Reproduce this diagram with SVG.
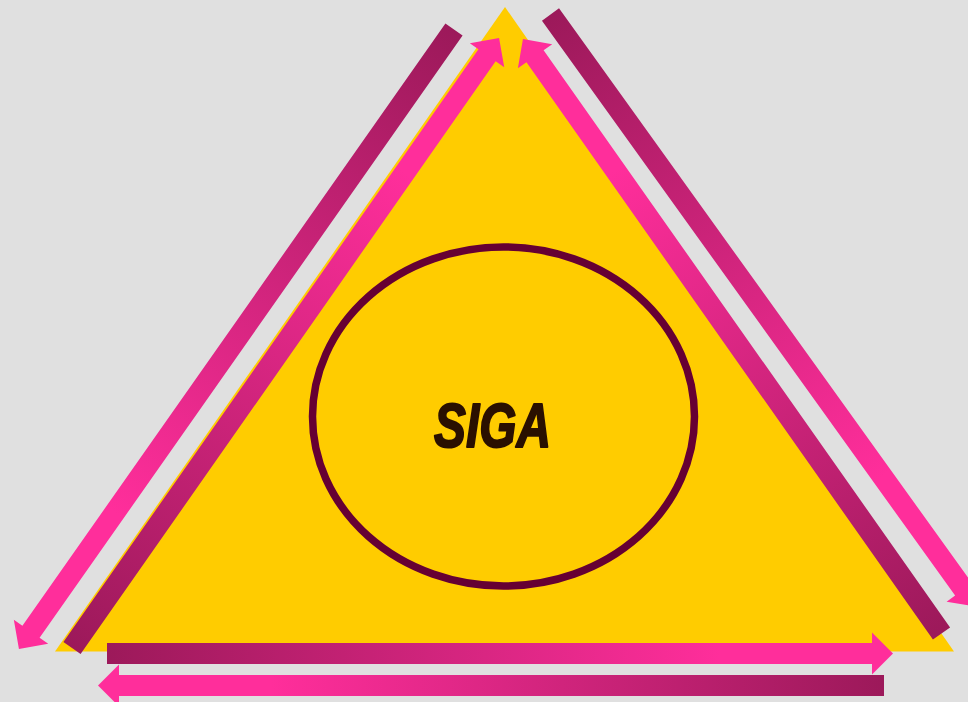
<svg xmlns="http://www.w3.org/2000/svg" width="968" height="702" viewBox="0 0 968 702">
  <style>
    .arrow { fill: url(#arrowGrad); }
    .label { font-family: "Liberation Sans", Arial, sans-serif; font-weight: bold; font-style: italic; fill: #2A1000; stroke: #2A1000; stroke-width: 2; stroke-linejoin: round; }
  </style>
  <defs>
    <linearGradient id="arrowGrad" x1="0" y1="0" x2="1" y2="0">
      <stop offset="0" stop-color="#9C195A"/>
      <stop offset="0.78" stop-color="#FF2E9B"/>
      <stop offset="1" stop-color="#FF2E9B"/>
    </linearGradient>
  </defs>
  <rect x="0" y="0" width="968" height="702" fill="#E0E0E0"/>
  <g id="triangle">
    <polygon points="505,7 954,651.5 55,651.5" fill="#FFCC00"/>
  </g>
  <g id="siga">
    <ellipse cx="503.5" cy="416.5" rx="191" ry="169.5" fill="none" stroke="#660033" stroke-width="7.5"/>
    <text class="label" x="434" y="447" font-size="63" textLength="117" lengthAdjust="spacingAndGlyphs">SIGA</text>
  </g>
  <g id="connectors">
    <path class="arrow" transform="translate(107,653.5)" d="M0,-10.5 H765 V-21 L786,0 L765,21 V10.5 H0 Z"/>
    <path class="arrow" transform="translate(884,685.5) rotate(180)" d="M0,-10.5 H765 V-21 L786,0 L765,21 V10.5 H0 Z"/>
    <path class="arrow" transform="translate(72,648) rotate(-55)" d="M0,-10.5 H723.6 V-21 L744.6,0 L723.6,21 V10.5 H0 Z"/>
    <path class="arrow" transform="translate(454,29.5) rotate(125.08)" d="M0,-10.5 H736 V-21 L757,0 L736,21 V10.5 H0 Z"/>
    <path class="arrow" transform="translate(941.5,633.5) rotate(-125.15)" d="M0,-10.5 H706 V-21 L727,0 L706,21 V10.5 H0 Z"/>
    <path class="arrow" transform="translate(550.5,14.5) rotate(54.3)" d="M0,-10.5 H708 V-21 L729,0 L708,21 V10.5 H0 Z"/>
  </g>
</svg>
